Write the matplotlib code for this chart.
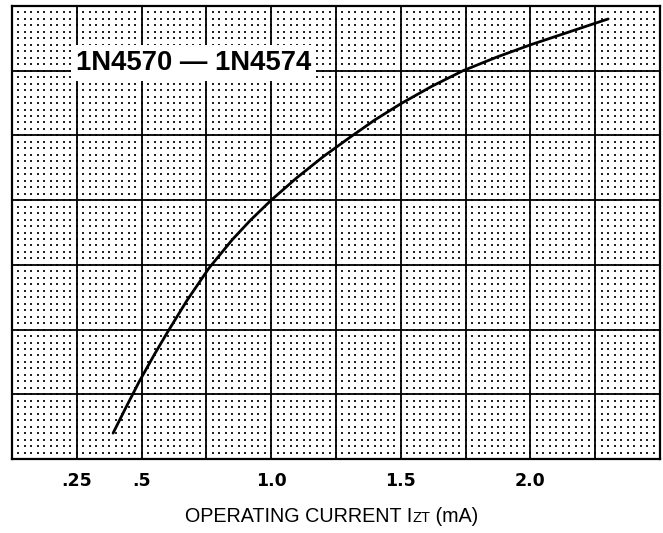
import numpy as np
import matplotlib
matplotlib.use("Agg")
import matplotlib.pyplot as plt
from matplotlib.offsetbox import TextArea, HPacker, AnchoredOffsetbox

# Operating current (mA) and the relative response (grid rows)
current_ma = [0.39, 0.44, 0.49, 0.55, 0.60, 0.675, 0.76, 0.85, 0.92, 1.00,
              1.10, 1.20, 1.30, 1.40, 1.50, 1.62, 1.74, 1.87, 2.00, 2.15, 2.30]
response = [0.40, 0.80, 1.19, 1.62, 1.96, 2.45, 2.95, 3.39, 3.69, 4.00,
            4.35, 4.67, 4.96, 5.24, 5.49, 5.76, 6.00, 6.21, 6.40, 6.60, 6.80]

tick_values = [0.25, 0.5, 1.0, 1.5, 2.0]
tick_labels = [".25", ".5", "1.0", "1.5", "2.0"]
title_text = "1N4570 \u2014 1N4574"

x_min, x_max, x_step = 0.0, 2.5, 0.25
y_min, y_max, y_step = 0.0, 7.0, 1.0

W, H = 663, 533
fig = plt.figure(figsize=(W / 100, H / 100), dpi=100)
ax = fig.add_axes([12 / W, (H - 459) / H, (660 - 12) / W, (459 - 6) / H])
ax.set_xlim(x_min, x_max)
ax.set_ylim(y_min, y_max)

# fine dotted graph-paper texture: dots at every tenth of a division
fx = np.arange(x_min, x_max + 1e-9, x_step / 10)
fy = np.arange(y_min, y_max + 1e-9, y_step / 10)
gx, gy = np.meshgrid(fx, fy)
ax.scatter(gx.ravel(), gy.ravel(), s=1.8, c="#222222", marker="s",
           linewidths=0, zorder=1)

# major grid
for xv in np.arange(x_min + x_step, x_max, x_step):
    ax.axvline(xv, color="black", lw=1.3, zorder=2)
for yv in np.arange(y_min + y_step, y_max, y_step):
    ax.axhline(yv, color="black", lw=1.3, zorder=2)

for sp in ax.spines.values():
    sp.set_linewidth(1.6)
    sp.set_color("black")
    sp.set_zorder(5)

# characteristic curve
ax.plot(current_ma, response, color="black", lw=2.0, zorder=4,
        solid_capstyle="round", solid_joinstyle="round")

# device label with white backing
ax.text(0.245, 6.12, title_text, fontsize=19.8, fontweight="bold",
        family=["Liberation Sans", "DejaVu Sans"], ha="left", va="center",
        zorder=6,
        bbox=dict(facecolor="white", edgecolor="none", pad=3.5))

ax.set_yticks([])
ax.set_xticks(tick_values)
ax.set_xticklabels(tick_labels, fontsize=12.5, fontweight="bold",
                   family=["Liberation Sans Narrow", "DejaVu Sans"])
ax.tick_params(axis="x", length=0, pad=9)

# axis title with small-caps subscript
base = dict(fontsize=14.2, family=["Liberation Sans", "DejaVu Sans"],
            color="black")
parts = [TextArea("OPERATING CURRENT I", textprops=base),
         TextArea("ZT", textprops=dict(base, fontsize=10.5)),
         TextArea(" (mA)", textprops=base)]
pack = HPacker(children=parts, pad=0, sep=0, align="baseline")
box = AnchoredOffsetbox(loc="center", child=pack, frameon=False,
                        bbox_to_anchor=(332 / W, (H - 517) / H),
                        bbox_transform=fig.transFigure, pad=0, borderpad=0)
fig.add_artist(box)

fig.savefig("out.png", dpi=100, facecolor="white")
